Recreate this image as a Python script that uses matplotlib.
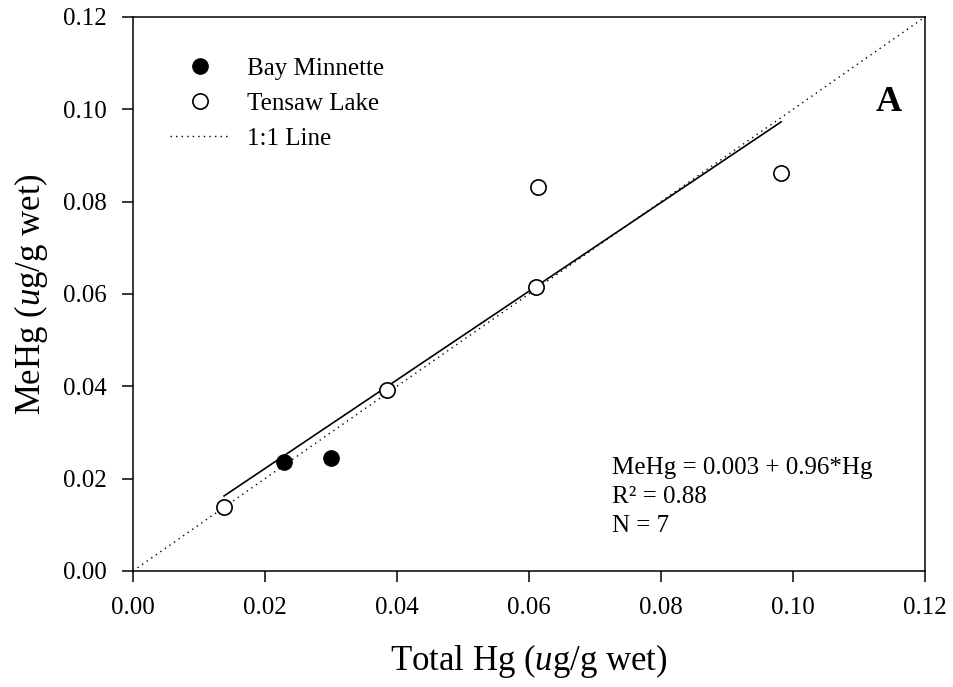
import matplotlib.pyplot as plt
import numpy as np

plt.rcParams['font.family'] = ['Liberation Serif', 'DejaVu Serif']
plt.rcParams['mathtext.fontset'] = 'custom'
plt.rcParams['mathtext.rm'] = 'Liberation Serif'
plt.rcParams['mathtext.it'] = 'Liberation Serif:italic'

# data
bay_hg = [0.0229, 0.0300]
bay_mehg = [0.0235, 0.0245]
tensaw_hg = [0.0138, 0.0385, 0.0611, 0.0614, 0.0982]
tensaw_mehg = [0.0139, 0.0392, 0.0616, 0.0831, 0.0861]
intercept = 0.003
slope = 0.96
ticks = [0.00, 0.02, 0.04, 0.06, 0.08, 0.10, 0.12]

fig = plt.figure(figsize=(9.54, 6.87), dpi=100)
ax = fig.add_axes([0.1394, 0.1689, 0.9696 - 0.1394, 0.9753 - 0.1689])

all_hg = np.array(bay_hg + tensaw_hg)
xr = np.array([all_hg.min(), all_hg.max()])
ax.plot(xr, intercept + slope * xr, color='black', lw=1.2, zorder=2)
ax.plot([0, 0.12], [0, 0.12], color='black', lw=1.0, ls=(0, (1, 3)),
        label='1:1 Line', zorder=1)
ax.plot(bay_hg, bay_mehg, 'o', ms=11, mfc='black', mec='black',
        label='Bay Minnette', zorder=3)
ax.plot(tensaw_hg, tensaw_mehg, 'o', ms=11, mfc='white', mec='black',
        mew=1.2, label='Tensaw Lake', zorder=3)

ax.set_xlim(0, 0.12)
ax.set_ylim(0, 0.12)
ax.set_xticks(ticks)
ax.set_yticks(ticks)
ax.set_xticklabels([f'{t:.2f}' for t in ticks])
ax.set_yticklabels([f'{t:.2f}' for t in ticks])
ax.tick_params(direction='out', length=8, width=1.1, labelsize=18)
ax.tick_params(axis='x', pad=10.5)
ax.tick_params(axis='y', pad=11)
for s in ax.spines.values():
    s.set_linewidth(1.1)

ax.set_xlabel('Total Hg ($\\it{u}$g/g wet)', fontsize=25, labelpad=17)
ax.set_ylabel('MeHg ($\\it{u}$g/g wet)', fontsize=25, labelpad=9)

h, l = ax.get_legend_handles_labels()
order = [1, 2, 0]
ax.legend([h[i] for i in order], [l[i] for i in order], loc='upper left',
          bbox_to_anchor=(0.0467, 0.927), frameon=False, fontsize=18,
          borderpad=0, borderaxespad=0,
          handlelength=2.4, handletextpad=0.68, labelspacing=0.5)

ax.text(0.971, 0.845, 'A', transform=ax.transAxes, fontsize=26,
        fontweight='bold', ha='right', va='center')
ax.text(0.605, 0.134, 'MeHg = 0.003 + 0.96*Hg\nR\u00b2 = 0.88\nN = 7',
        transform=ax.transAxes, fontsize=18, ha='left', va='center',
        linespacing=1.4)

fig.savefig('out.png', dpi=100)
